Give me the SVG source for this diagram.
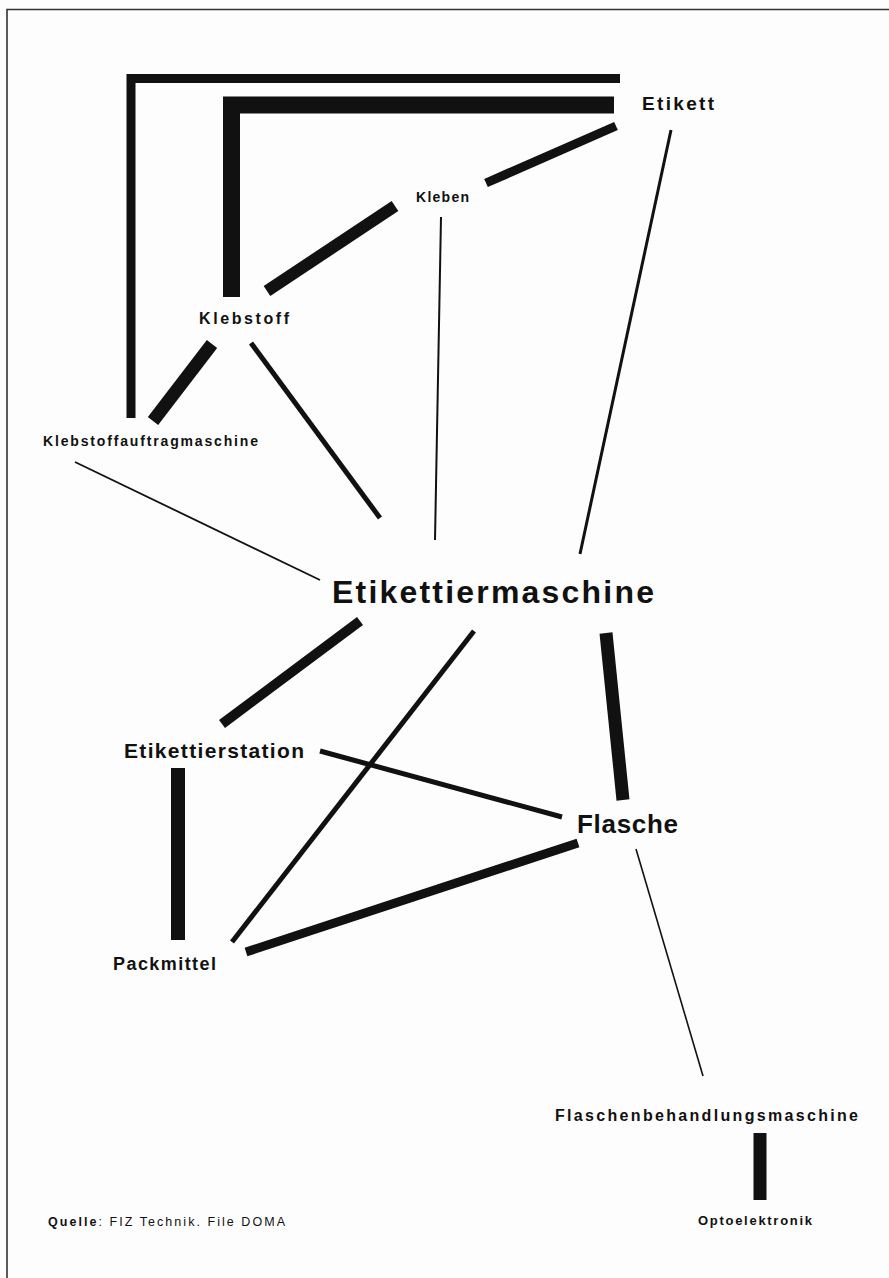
<svg xmlns="http://www.w3.org/2000/svg" width="889" height="1278" viewBox="0 0 889 1278">
<style>
  .bg { fill: #fdfdfd; }
  .frame { stroke: #333; stroke-width: 1.6; fill: none; }
  .c { stroke: #111; fill: none; stroke-linecap: butt; stroke-linejoin: miter; }
  .lbl { font-family: "Liberation Sans", Arial, sans-serif; font-weight: bold; fill: #111; }
  .reg { font-weight: normal; }
</style>
<rect class="bg" x="0" y="0" width="889" height="1278"/>
<path class="frame" d="M7,1278 L7,9.5 L889,9.5"/>
<g id="connectors">
  <polyline class="c" points="131,418 131,78.5 620,78.5" stroke-width="9"/>
  <polyline class="c" points="231.5,297 231.5,105 614,105" stroke-width="17"/>
  <line class="c" x1="616" y1="126" x2="486" y2="183" stroke-width="9"/>
  <line class="c" x1="395" y1="206" x2="267" y2="291" stroke-width="12"/>
  <line class="c" x1="441" y1="217" x2="435" y2="540" stroke-width="2"/>
  <line class="c" x1="671" y1="130" x2="580" y2="554" stroke-width="3"/>
  <line class="c" x1="212" y1="344" x2="153" y2="421" stroke-width="13"/>
  <line class="c" x1="251" y1="343" x2="380" y2="518" stroke-width="5"/>
  <line class="c" x1="75" y1="462" x2="320" y2="580" stroke-width="1.8"/>
  <line class="c" x1="360" y1="621" x2="222" y2="724" stroke-width="10"/>
  <line class="c" x1="474" y1="631" x2="232" y2="942" stroke-width="5"/>
  <line class="c" x1="606" y1="633" x2="623" y2="800" stroke-width="13"/>
  <line class="c" x1="320" y1="751" x2="562" y2="817" stroke-width="5"/>
  <line class="c" x1="178" y1="768" x2="178" y2="940" stroke-width="14"/>
  <line class="c" x1="246" y1="952" x2="578" y2="843" stroke-width="9"/>
  <line class="c" x1="636" y1="849" x2="703" y2="1076" stroke-width="1.6"/>
  <line class="c" x1="760" y1="1133" x2="760" y2="1200" stroke-width="13"/>
</g>
<g id="node-etikett"><text class="lbl" x="642" y="110" font-size="19" textLength="72" lengthAdjust="spacing">Etikett</text></g>
<g id="node-kleben"><text class="lbl" x="416" y="202" font-size="14" textLength="53" lengthAdjust="spacing">Kleben</text></g>
<g id="node-klebstoff"><text class="lbl" x="199" y="324" font-size="16" textLength="90" lengthAdjust="spacing">Klebstoff</text></g>
<g id="node-klebstoffauftragmaschine"><text class="lbl" x="43" y="446" font-size="14" textLength="215" lengthAdjust="spacing">Klebstoffauftragmaschine</text></g>
<g id="node-etikettiermaschine"><text class="lbl" x="332" y="603" font-size="32" textLength="322" lengthAdjust="spacing">Etikettiermaschine</text></g>
<g id="node-etikettierstation"><text class="lbl" x="124" y="758" font-size="21" textLength="180" lengthAdjust="spacing">Etikettierstation</text></g>
<g id="node-flasche"><text class="lbl" x="577" y="833" font-size="26" textLength="101" lengthAdjust="spacing">Flasche</text></g>
<g id="node-packmittel"><text class="lbl" x="113" y="970" font-size="18" textLength="103" lengthAdjust="spacing">Packmittel</text></g>
<g id="node-flaschenbehandlungsmaschine"><text class="lbl" x="555" y="1121" font-size="16" textLength="303" lengthAdjust="spacing">Flaschenbehandlungsmaschine</text></g>
<g id="node-optoelektronik"><text class="lbl" x="698" y="1225" font-size="13" textLength="114" lengthAdjust="spacing">Optoelektronik</text></g>
<g id="source"><text class="lbl" x="48" y="1226" font-size="12.5" textLength="237" lengthAdjust="spacing">Quelle<tspan class="reg">: FIZ Technik. File DOMA</tspan></text></g>
</svg>
